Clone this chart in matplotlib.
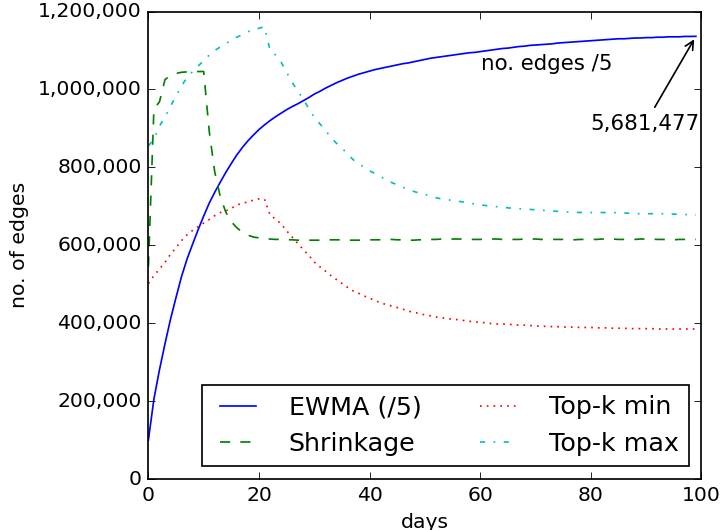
import matplotlib
matplotlib.use("Agg")
import matplotlib.pyplot as plt
from matplotlib.ticker import FuncFormatter
import numpy as np

days = np.arange(100)

# values in thousands of edges
ewma_k = [
    100, 205, 280, 347, 410, 466, 520, 565, 603, 640,
    675, 708, 736, 762, 787, 810, 832, 851, 868, 883,
    897, 909, 920, 930, 939, 948, 956, 963, 971, 979,
    988, 995, 1003, 1010, 1017, 1023, 1029, 1034, 1039, 1043,
    1047, 1051, 1054, 1057, 1060, 1063, 1066, 1068, 1071, 1074,
    1077, 1080, 1082, 1084, 1086, 1088, 1090, 1092, 1094, 1095,
    1097, 1099, 1101, 1103, 1105, 1106, 1108, 1110, 1111, 1113,
    1114, 1115, 1116, 1117, 1119, 1120, 1121, 1122, 1123, 1124,
    1125, 1126, 1127, 1128, 1129, 1130, 1130, 1131, 1132, 1132,
    1133, 1133, 1134, 1134, 1135, 1135, 1135, 1136, 1136, 1136.295,
]
shrink_k = [
    545, 950, 968, 1025, 1036, 1041, 1044, 1045, 1045, 1046,
    1046, 893, 788, 725, 685, 660, 645, 633, 626, 621,
    619, 617, 616, 615, 615, 614, 614, 613, 613, 613,
    613, 613, 614, 614, 614, 614, 613, 613, 613, 614,
    614, 614, 614, 614, 615, 614, 614, 613, 613, 614,
    614, 615, 615, 616, 616, 616, 616, 616, 615, 615,
    615, 616, 616, 616, 615, 615, 615, 615, 616, 616,
    616, 615, 615, 615, 615, 615, 614, 614, 615, 615,
    615, 615, 616, 616, 616, 615, 615, 615, 615, 616,
    616, 616, 615, 615, 614, 614, 615, 615, 615, 615,
]
topk_min_k = [
    502, 522, 539, 556, 577, 594, 612, 627, 638, 648,
    657, 666, 676, 684, 688, 695, 703, 708, 711, 716,
    719, 718, 678, 667, 655, 637, 621, 605, 589, 574,
    557, 545, 534, 522, 512, 502, 492, 483, 477, 470,
    464, 458, 452, 448, 444, 440, 436, 431, 428, 425,
    421, 419, 416, 414, 412, 410, 409, 407, 405, 403,
    402, 401, 399, 398, 398, 397, 396, 395, 395, 394,
    393, 392, 392, 391, 391, 390, 390, 390, 389, 389,
    389, 388, 388, 388, 387, 387, 387, 386, 386, 386,
    386, 386, 385, 385, 385, 385, 385, 385, 385, 385,
]
topk_max_k = [
    855, 872, 906, 929, 957, 983, 1009, 1031, 1046, 1060,
    1074, 1088, 1100, 1109, 1118, 1126, 1134, 1141, 1148, 1154,
    1157, 1161, 1100, 1088, 1070, 1044, 1018, 996, 975, 951,
    928, 912, 895, 877, 862, 849, 835, 820, 810, 800,
    791, 784, 776, 768, 761, 755, 749, 743, 738, 734,
    731, 726, 722, 719, 717, 715, 713, 711, 708, 706,
    704, 702, 700, 699, 698, 696, 695, 694, 693, 692,
    691, 690, 689, 688, 687, 686, 685, 685, 684, 684,
    684, 684, 684, 684, 684, 683, 683, 682, 681, 681,
    681, 681, 681, 681, 680, 680, 679, 679, 678, 678,
]

ewma = np.array(ewma_k) * 1000
shrink = np.array(shrink_k) * 1000
topk_min = np.array(topk_min_k) * 1000
topk_max = np.array(topk_max_k) * 1000

total_edges = 5681477

plt.style.use("classic")
DPI = 122
fig = plt.figure(figsize=(727 / DPI, 530 / DPI), dpi=DPI, facecolor="white")
ax = fig.add_axes([0.2041, 0.0962, 0.7607, 0.8821])

ax.plot(days, ewma, "b-", label="EWMA (/5)")
ax.plot(days, shrink, "g--", label="Shrinkage")
ax.plot(days, topk_min, "r:", label="Top-k min")
ax.plot(days, topk_max, "c-.", label="Top-k max")

ax.set_xlim(0, 100)
ax.set_ylim(0, 1200000)
ax.set_xticks(np.arange(0, 101, 20))
ax.set_yticks(np.arange(0, 1200001, 200000))
ax.yaxis.set_major_formatter(FuncFormatter(lambda v, p: f"{int(v):,}"))
ax.set_xlabel("days")
ax.set_ylabel("no. of edges")

ax.annotate(f"{total_edges:,}", xy=(99, total_edges / 5), xytext=(89.8, 911000),
            ha="center", va="center", fontsize=12.6,
            arrowprops=dict(arrowstyle="->", color="black"))
ax.text(72, 1048600, "no. edges /5", ha="center", va="baseline", fontsize=12.6)

ax.legend(loc="lower right", ncol=2, fontsize=15, handletextpad=1.0)

fig.savefig("out.png", dpi=DPI, facecolor="white")
